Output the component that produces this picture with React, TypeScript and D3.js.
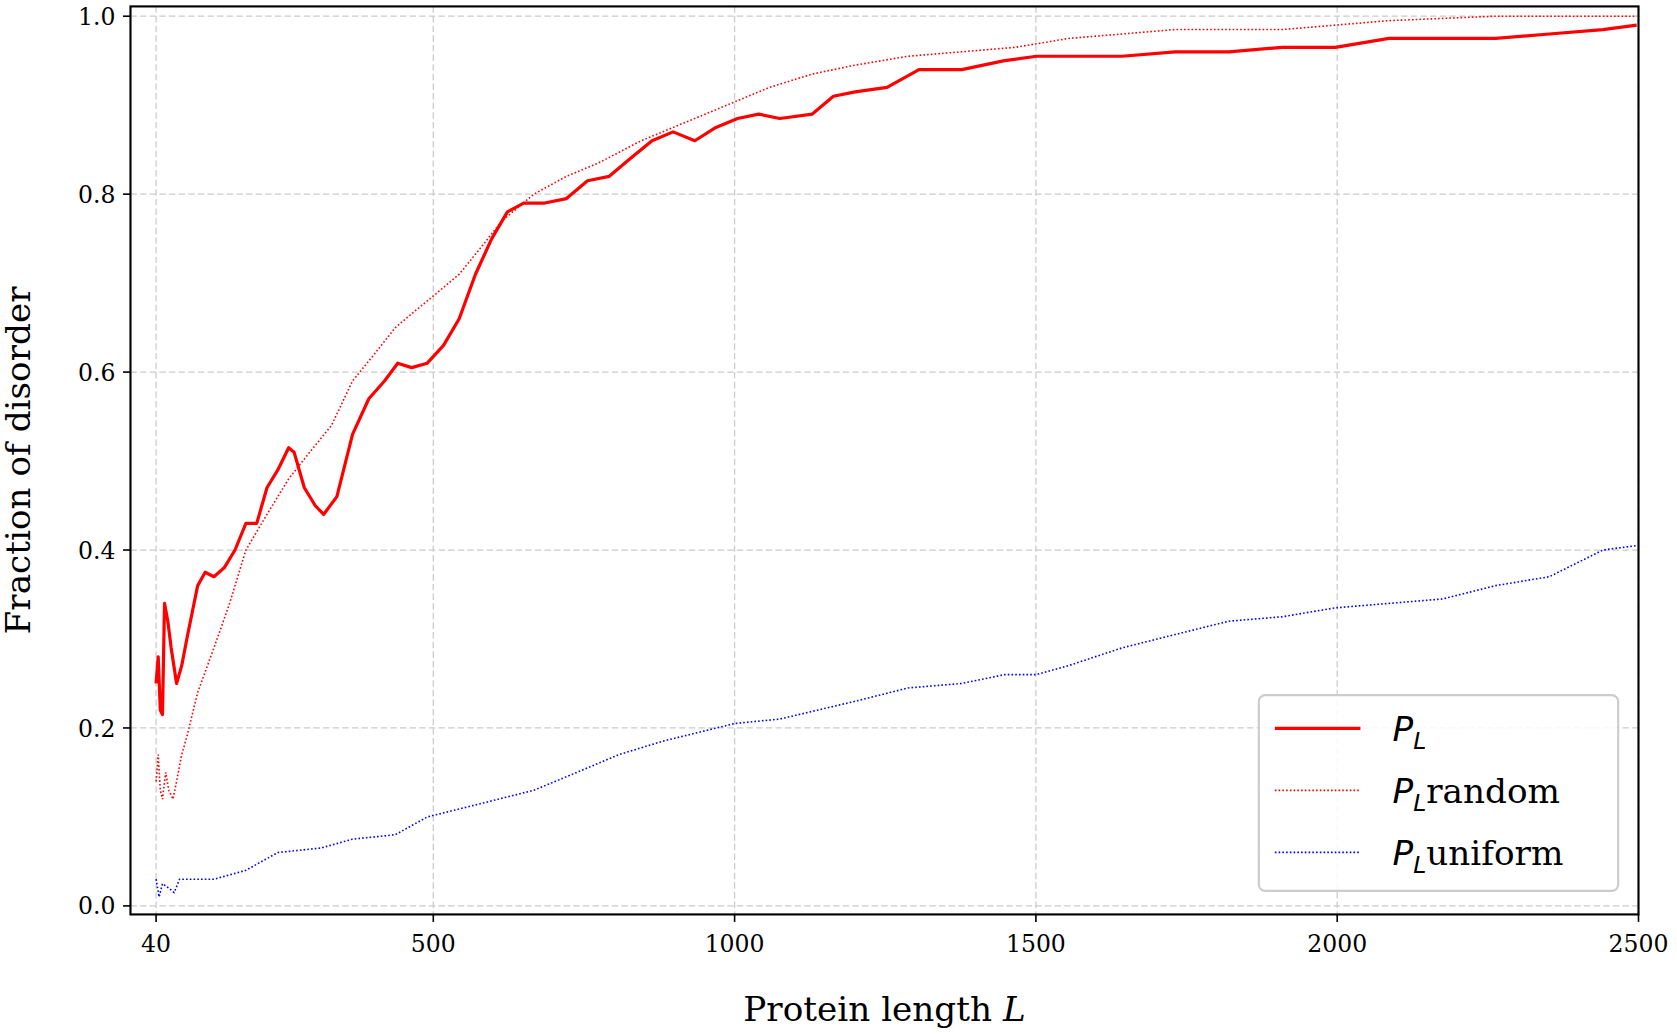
import React from "react";
import * as d3 from "d3";

const xTicks = [40, 500, 1000, 1500, 2000, 2500];
const yTicks = [0, 0.2, 0.4, 0.6, 0.8, 1.0];

const plL = [40,43.5,47,50.6,54,59.5,65,74,82.5,91,100,109,121.5,136,153,171,189,207,224,242,260,269,286,304,318,340,366,393,419,441,464,490,517,543,570,597,623,650,685,721,756,792,827,863,898,934,969,1005,1040,1075,1129,1164,1200,1253,1306,1377,1448,1501,1554,1643,1731,1820,1909,1997,2086,2175,2263,2352,2441,2497];
const plV = [0.25,0.28,0.22,0.215,0.34,0.32,0.29,0.25,0.27,0.30,0.33,0.36,0.375,0.37,0.38,0.40,0.43,0.43,0.47,0.49,0.515,0.51,0.47,0.45,0.44,0.46,0.53,0.57,0.59,0.61,0.605,0.61,0.63,0.66,0.71,0.75,0.78,0.79,0.79,0.795,0.815,0.82,0.84,0.86,0.87,0.86,0.875,0.885,0.89,0.885,0.89,0.91,0.915,0.92,0.94,0.94,0.95,0.955,0.955,0.955,0.96,0.96,0.965,0.965,0.975,0.975,0.975,0.98,0.985,0.99];

const rndL = [40,43.5,47,50.6,56,61,68,74,82.5,91,109,136,162,189,224,260,295,331,366,402,437,472,508,543,579,614,667,721,774,845,916,987,1058,1129,1200,1288,1377,1466,1554,1643,1731,1909,2086,2263,2497];
const rndV = [0.14,0.17,0.13,0.12,0.15,0.13,0.12,0.14,0.17,0.19,0.24,0.29,0.34,0.40,0.44,0.48,0.51,0.54,0.59,0.62,0.65,0.67,0.69,0.71,0.74,0.77,0.80,0.82,0.835,0.86,0.88,0.90,0.92,0.935,0.945,0.955,0.96,0.965,0.975,0.98,0.985,0.985,0.995,1.0,1.0];

const uniL = [40,45,50.6,61,70,79,91,136,189,242,313,366,437,490,579,667,738,808,880,1000,1075,1200,1288,1377,1448,1501,1554,1643,1731,1820,1909,1997,2086,2175,2263,2352,2441,2497];
const uniV = [0.03,0.01,0.025,0.02,0.015,0.03,0.03,0.03,0.04,0.06,0.065,0.075,0.08,0.10,0.115,0.13,0.15,0.17,0.185,0.205,0.21,0.23,0.245,0.25,0.26,0.26,0.27,0.29,0.305,0.32,0.325,0.335,0.34,0.345,0.36,0.37,0.40,0.405];

const L = 122, R = 1532, T = 6, B = 855;
const S = 1677 / 1568;

export default function App() {
  const x = d3.scaleLinear().domain([-2.5, 2500]).range([L, R]);
  const y = d3.scaleLinear().domain([-0.0096, 1.011]).range([B, T]);
  const line = (xs: number[], ys: number[]) =>
    d3.line<number>().x((_, i) => x(xs[i])).y((v) => y(v))(ys) || "";
  return (
    <svg width={1677} height={1036} style={{ position: "absolute", left: 0, top: 0, background: "#fff" }} fontFamily="DejaVu Serif">
      <defs>
        <clipPath id="c"><rect x={L} y={T} width={R - L} height={B - T} /></clipPath>
      </defs>
      <g transform={`scale(${S})`}>
        {xTicks.map((t) => (
          <g key={"x" + t}>
            <line x1={x(t)} x2={x(t)} y1={T} y2={B} stroke="#cccccc" strokeDasharray="6,3" strokeWidth={1.2} />
            <line x1={x(t)} x2={x(t)} y1={B} y2={B + 7} stroke="#000" strokeWidth={1.5} />
            <text x={x(t)} y={B + 35} textAnchor="middle" fontSize={22}>{t}</text>
          </g>
        ))}
        {yTicks.map((t) => (
          <g key={"y" + t}>
            <line x1={L} x2={R} y1={y(t)} y2={y(t)} stroke="#cccccc" strokeDasharray="6,3" strokeWidth={1.2} />
            <line x1={L - 7} x2={L} y1={y(t)} y2={y(t)} stroke="#000" strokeWidth={1.5} />
            <text x={L - 14} y={y(t) + 8} textAnchor="end" fontSize={22}>{t.toFixed(1)}</text>
          </g>
        ))}
        <g clipPath="url(#c)" fill="none">
          <path d={line(rndL, rndV)} stroke="#ff0000" strokeWidth={1.5} strokeDasharray="1.5,2" />
          <path d={line(uniL, uniV)} stroke="#0000ff" strokeWidth={1.5} strokeDasharray="1.5,2" />
          <path d={line(plL, plV)} stroke="#ff0000" strokeWidth={3} strokeLinejoin="round" />
        </g>
        <rect x={L} y={T} width={R - L} height={B - T} fill="none" stroke="#000" strokeWidth={2} />
        <text x={(L + R) / 2} y={955} textAnchor="middle" fontSize={32}>Protein length <tspan fontStyle="italic">L</tspan></text>
        <text transform={`translate(28,${(T + B) / 2}) rotate(-90)`} textAnchor="middle" fontSize={32}>Fraction of disorder</text>
        <g>
          <rect x={1177} y={650} width={336} height={183} rx={6} fill="#fff" fillOpacity={0.85} stroke="#cccccc" strokeWidth={2} />
          <line x1={1192} x2={1272} y1={681} y2={681} stroke="#ff0000" strokeWidth={3} />
          <line x1={1192} x2={1272} y1={739} y2={739} stroke="#ff0000" strokeWidth={1.5} strokeDasharray="1.5,2" />
          <line x1={1192} x2={1272} y1={797} y2={797} stroke="#0000ff" strokeWidth={1.5} strokeDasharray="1.5,2" />
          <text x={1302} y={693} fontSize={32}><tspan fontFamily="DejaVu Sans" fontStyle="italic">P</tspan><tspan fontFamily="DejaVu Sans" fontStyle="italic" fontSize={22} dy={7}>L</tspan></text>
          <text x={1302} y={751} fontSize={32}><tspan fontFamily="DejaVu Sans" fontStyle="italic">P</tspan><tspan fontFamily="DejaVu Sans" fontStyle="italic" fontSize={22} dy={7}>L</tspan><tspan dy={-7}>random</tspan></text>
          <text x={1302} y={809} fontSize={32}><tspan fontFamily="DejaVu Sans" fontStyle="italic">P</tspan><tspan fontFamily="DejaVu Sans" fontStyle="italic" fontSize={22} dy={7}>L</tspan><tspan dy={-7}>uniform</tspan></text>
        </g>
      </g>
    </svg>
  );
}
